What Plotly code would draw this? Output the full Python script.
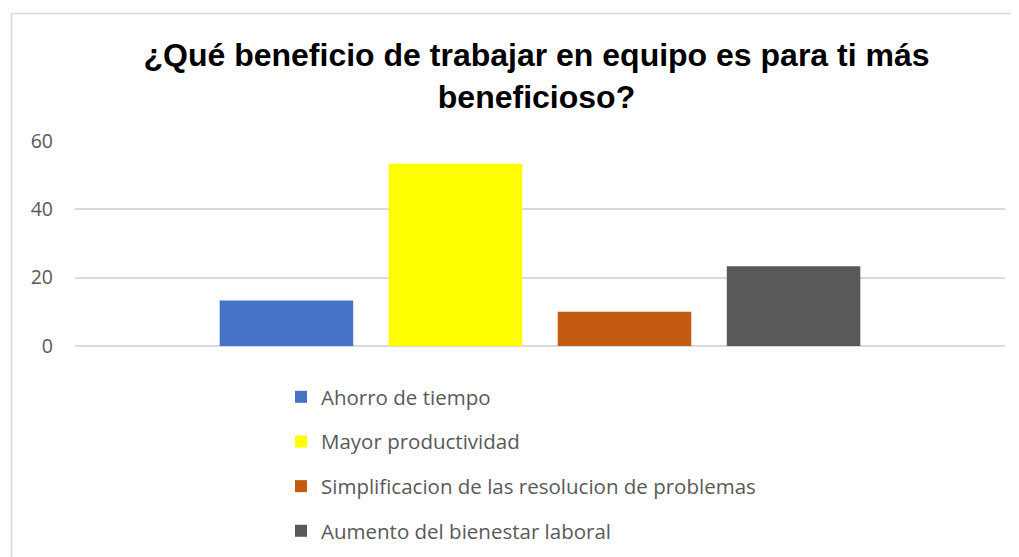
import plotly.graph_objects as go

# Data
series_names = [
    "Ahorro de tiempo",
    "Mayor productividad",
    "Simplificacion de las resolucion de problemas",
    "Aumento del bienestar laboral",
]
series_values = [13.33, 53.33, 10.0, 23.33]
series_colors = ["#4472C4", "#FFFF00", "#C55A11", "#595959"]
category = [""]
y_ticks = [0, 20, 40, 60]
title_text = "¿Qué beneficio de trabajar en equipo es para ti más<br>beneficioso?"

# page draws the figure at an 8px body offset
OFF = 8
W, H = 1019 - OFF, 557 - OFF
ml, mr, mt, mb = 75 - OFF, 14, 141 - OFF, 211
pw = W - ml - mr
ph = H - mt - mb

fig = go.Figure()
for i, (name, val, col) in enumerate(zip(series_names, series_values, series_colors)):
    fig.add_trace(go.Bar(
        x=category, y=[val], name=name, legendgroup=f"g{i}",
        marker=dict(color=col, line=dict(color=col, width=0)),
        hoverinfo="name+y",
    ))

def px_x(p):
    return (p - OFF - ml) / pw

def px_y(p):
    return (H - mb - (p - OFF)) / ph

fig.update_layout(
    width=W, height=H,
    margin=dict(l=ml, r=mr, t=mt, b=mb, autoexpand=False),
    paper_bgcolor="white", plot_bgcolor="white",
    barmode="group", bargap=0.273, bargroupgap=0.21,
    title=dict(
        text=title_text, x=(536.5 - OFF) / W, xref="container", xanchor="center",
        y=1 - (66 - OFF) / H, yref="container", yanchor="middle",
        font=dict(family="Liberation Sans, Arial", size=32, color="black", weight="bold"),
    ),
    xaxis=dict(showticklabels=False, showgrid=False, zeroline=False, showline=False,
               ticks="", range=[-0.5, 0.5]),
    yaxis=dict(range=[0, 60], tickvals=y_ticks, showgrid=True, gridcolor="#d9d9d9",
               gridwidth=1.5, zeroline=True, zerolinecolor="#d9d9d9", zerolinewidth=1.5,
               showline=False, ticks="", ticklabelstandoff=21,
               tickfont=dict(family="Open Sans", size=19.5, color="#595959")),
    showlegend=True,
    legend=dict(
        orientation="v", x=px_x(281), xanchor="left", y=px_y(377), yanchor="top",
        font=dict(family="Open Sans", size=20.5, color="#595959"),
        tracegroupgap=15, traceorder="grouped", bgcolor="rgba(0,0,0,0)",
    ),
    shapes=[dict(
        type="rect", xref="paper", yref="paper",
        x0=px_x(11.5), x1=px_x(1040), y0=px_y(580), y1=px_y(13.5),
        line=dict(color="#d9d9d9", width=1.5), fillcolor="rgba(0,0,0,0)", layer="below",
    )],
)

fig.write_html("out.html")
